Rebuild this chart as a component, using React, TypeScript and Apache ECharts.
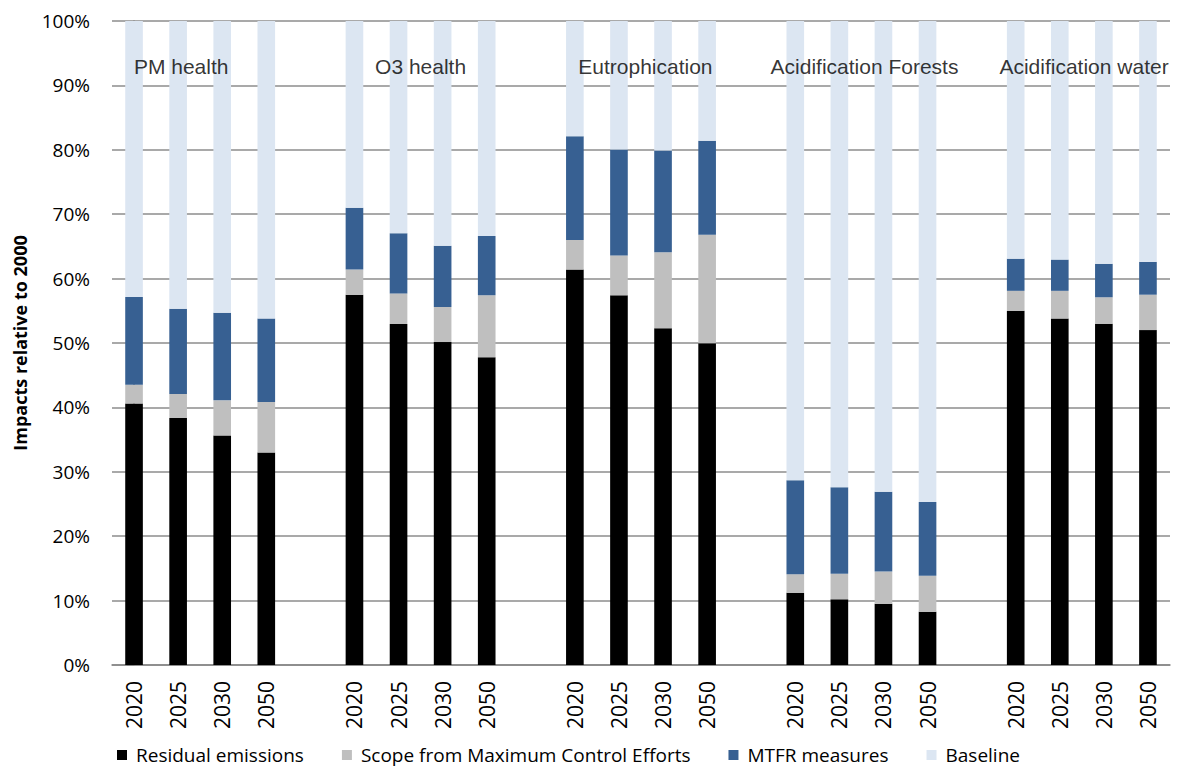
import React, { useEffect, useRef } from "react";
import * as echarts from "echarts";

// Categories (blank entries are gaps between indicator groups)
const categories = [
  "2020", "2025", "2030", "2050", "",
  "2020", "2025", "2030", "2050", "",
  "2020", "2025", "2030", "2050", "",
  "2020", "2025", "2030", "2050", "",
  "2020", "2025", "2030", "2050",
];

const G = null; // gap

// Segment values in % (stacked, summing to 100)
const residual = [
  40.6, 38.35, 35.65, 33.0, G,
  57.5, 52.95, 50.15, 47.8, G,
  61.4, 57.4, 52.3, 49.95, G,
  11.2, 10.2, 9.5, 8.25, G,
  55.0, 53.8, 53.0, 52.0,
];
const scopeMCE = [
  2.9, 3.75, 5.45, 7.85, G,
  3.9, 4.75, 5.45, 9.6, G,
  4.6, 6.2, 11.8, 16.85, G,
  2.9, 3.95, 5.0, 5.6, G,
  3.1, 4.3, 4.1, 5.5,
];
const mtfr = [
  13.65, 13.2, 13.6, 12.95, G,
  9.6, 9.35, 9.5, 9.2, G,
  16.1, 16.45, 15.8, 14.6, G,
  14.6, 13.45, 12.4, 11.45, G,
  5.0, 4.85, 5.2, 5.1,
];
const baseline = [
  42.85, 44.7, 45.3, 46.2, G,
  29.0, 32.95, 34.9, 33.4, G,
  17.9, 19.95, 20.1, 18.6, G,
  71.3, 72.4, 73.1, 74.7, G,
  36.9, 37.05, 37.7, 37.4,
];

const groupNames = ["PM health", "O3 health", "Eutrophication", "Acidification Forests", "Acidification water"];
const groupLabelPos = [1.07, 6.5, 11.6, 16.57, 21.55]; // category position of each group label
const groupLabelLevel = 93; // % level

const seriesNames = ["Residual emissions", "Scope from Maximum Control Efforts", "MTFR measures", "Baseline"];
const seriesColors = ["#000000", "#BFBFBF", "#376092", "#DCE6F2"];
const yTicks = { min: 0, max: 100, interval: 10 };

export default function App() {
  const ref = useRef<HTMLDivElement>(null);
  useEffect(() => {
    document.body.style.margin = "0";
    const chart = echarts.init(ref.current!, undefined, { renderer: "svg" });
    const values = [residual, scopeMCE, mtfr, baseline];
    const barSeries = values.map((d, i) => ({
      name: seriesNames[i],
      type: "bar",
      stack: "total",
      barWidth: "40%",
      data: d.map((v) => (v === null ? "-" : v)),
      itemStyle: { color: seriesColors[i] },
      xAxisIndex: 0,
      yAxisIndex: 0,
    }));
    chart.setOption({
      animation: false,
      backgroundColor: "#ffffff",
      grid: { left: 112, right: 8, top: 21, bottom: 102, containLabel: false },
      legend: {
        data: seriesNames,
        left: 117,
        top: 744,
        padding: 0,
        icon: "rect",
        itemWidth: 10,
        itemHeight: 10,
        itemGap: 38,
        textStyle: {
          fontFamily: "Open Sans",
          fontSize: 19,
          color: "#000",
          padding: [0, 0, 0, 4],
          lineHeight: 22,
        },
      },
      xAxis: [
        {
          type: "category",
          data: categories,
          axisLine: { lineStyle: { color: "#868686", width: 1.5 } },
          axisTick: { show: false },
          axisLabel: {
            rotate: 90,
            interval: 0,
            margin: 16,
            fontFamily: "Open Sans",
            fontSize: 21,
            color: "#000",
          },
        },
        {
          type: "value",
          min: -0.5,
          max: 23.5,
          show: false,
        },
      ],
      yAxis: {
        type: "value",
        min: yTicks.min,
        max: yTicks.max,
        interval: yTicks.interval,
        name: "Impacts relative to 2000",
        nameLocation: "middle",
        nameGap: 83,
        nameTextStyle: { fontFamily: "Open Sans", fontWeight: "bold", fontSize: 18, color: "#000" },
        axisLine: { show: true, lineStyle: { color: "#868686", width: 1.5 } },
        axisTick: { show: true, length: 7, lineStyle: { color: "#868686" } },
        axisLabel: {
          formatter: "{value}%",
          margin: 22,
          fontFamily: "Open Sans",
          fontSize: 19,
          color: "#000",
        },
        splitLine: { lineStyle: { color: "#8C8C8C", width: 1.5 } },
      },
      series: [
        ...barSeries,
        {
          type: "scatter",
          xAxisIndex: 1,
          yAxisIndex: 0,
          symbolSize: 0,
          silent: true,
          data: groupNames.map((n, i) => ({ name: n, value: [groupLabelPos[i], groupLabelLevel] })),
          label: {
            show: true,
            position: "inside",
            formatter: "{b}",
            fontFamily: "Liberation Sans",
            fontSize: 21,
            color: "#000",
          },
          z: 10,
        },
      ],
    });
    return () => chart.dispose();
  }, []);
  return <div ref={ref} style={{ width: 1178, height: 767 }} />;
}
